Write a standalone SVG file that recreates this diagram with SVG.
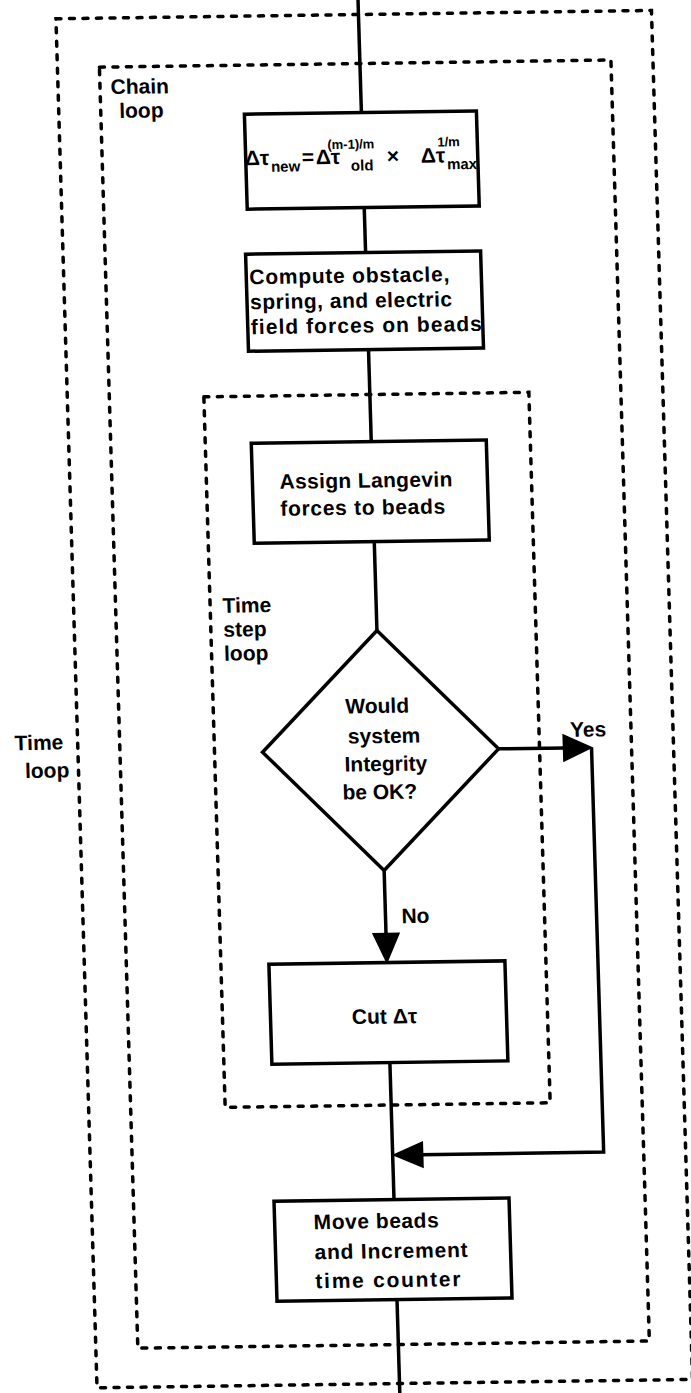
<svg xmlns="http://www.w3.org/2000/svg" width="691" height="1393" viewBox="0 0 691 1393">
<style>
  .box{fill:#fff;stroke:#000;stroke-width:3.5;stroke-linejoin:miter}
  .loop{fill:none;stroke:#000;stroke-width:3.5;stroke-dasharray:5 8.5;stroke-linecap:round}
  .ln{fill:none;stroke:#000;stroke-width:3.5}
  .head{fill:#000;stroke:#000;stroke-width:1.5;stroke-linejoin:miter}
  text{font-family:"Liberation Sans",Arial,Helvetica,sans-serif;font-weight:bold;font-size:21px;fill:#000}
  .sub{font-size:15px}
  .sup{font-size:13px}
  .mid{text-anchor:middle}
</style>
<rect width="691" height="1393" fill="#fff"/>
<g transform="matrix(1,-0.014,0.03,1,-21,4.83)">
  <g id="time-loop">
    <rect class="loop" x="76.5" y="15" width="595.5" height="1369"/>
    <text x="13.5" y="745.5">Time</text>
    <text x="23" y="773.5">loop</text>
  </g>
  <g id="chain-loop">
    <rect class="loop" x="118.5" y="64" width="511.5" height="1281"/>
    <text x="129" y="91">Chain</text>
    <text x="137" y="115">loop</text>
  </g>
  <g id="time-step-loop">
    <rect class="loop" x="213" y="395" width="325" height="710.5"/>
    <text x="225.5" y="611">Time</text>
    <text x="225.5" y="635">step</text>
    <text x="225.5" y="659">loop</text>
  </g>
  <g id="connectors">
    <line class="ln" x1="379" y1="-10" x2="379" y2="113"/>
    <line class="ln" x1="379" y1="208" x2="379" y2="253"/>
    <line class="ln" x1="379" y1="350" x2="379" y2="442"/>
    <line class="ln" x1="379" y1="542" x2="379" y2="631"/>
    <line class="ln" x1="379" y1="871" x2="379" y2="936"/>
    <polygon class="head" points="366,934 392,934 379,963"/>
    <text x="395" y="924">No</text>
    <polyline class="ln" points="497,751 564,751"/>
    <polygon class="head" points="562,738 562,764 590,751"/>
    <text x="569" y="740">Yes</text>
    <polyline class="ln" points="590,751 590,1155.5 407,1155.5"/>
    <polygon class="head" points="409,1143 409,1168 380,1155.5"/>
    <line class="ln" x1="379" y1="1063" x2="379" y2="1200"/>
    <line class="ln" x1="379" y1="1300" x2="379" y2="1420"/>
  </g>
  <g id="update-step">
    <rect class="box" x="262" y="113" width="232" height="95"/>
    <text>
      <tspan x="261" y="164">Δτ</tspan><tspan class="sub" x="287" y="171">new</tspan><tspan x="318" y="164">=</tspan><tspan x="332" y="164">Δτ</tspan><tspan class="sup" x="344" y="149">(m-1)/m</tspan><tspan class="sub" x="367" y="171">old</tspan><tspan x="403" y="164">×</tspan><tspan x="437" y="164">Δτ</tspan><tspan class="sup" x="454" y="148">1/m</tspan><tspan class="sub" x="463" y="171">max</tspan>
    </text>
  </g>
  <g id="compute-forces">
    <rect class="box" x="259" y="253" width="235" height="97"/>
    <text x="262" y="283" textLength="200" lengthAdjust="spacing">Compute obstacle,</text>
    <text x="262" y="308" textLength="202" lengthAdjust="spacing">spring, and electric</text>
    <text x="262" y="333" textLength="231" lengthAdjust="spacing">field forces on beads</text>
  </g>
  <g id="assign-langevin">
    <rect class="box" x="259" y="442" width="235" height="100"/>
    <text x="286" y="488" textLength="173" lengthAdjust="spacing">Assign Langevin</text>
    <text x="286" y="515" textLength="165" lengthAdjust="spacing">forces to beads</text>
  </g>
  <g id="integrity-check">
    <polygon class="box" points="379,631 497,751 379,871 261,751"/>
    <text class="mid" x="377" y="713.5">Would</text>
    <text class="mid" x="383" y="743.5">system</text>
    <text class="mid" x="384" y="771.5">Integrity</text>
    <text class="mid" x="377" y="799.5">be OK?</text>
  </g>
  <g id="cut-step">
    <rect class="box" x="261" y="963" width="236" height="100"/>
    <text class="mid" x="375" y="1024">Cut  Δτ</text>
  </g>
  <g id="move-beads">
    <rect class="box" x="259" y="1200" width="235" height="100"/>
    <text x="298" y="1228.5" textLength="125" lengthAdjust="spacing">Move beads</text>
    <text x="298" y="1258.5" textLength="153" lengthAdjust="spacing">and Increment</text>
    <text x="298" y="1287.5" textLength="145" lengthAdjust="spacing">time  counter</text>
  </g>
</g>
</svg>
